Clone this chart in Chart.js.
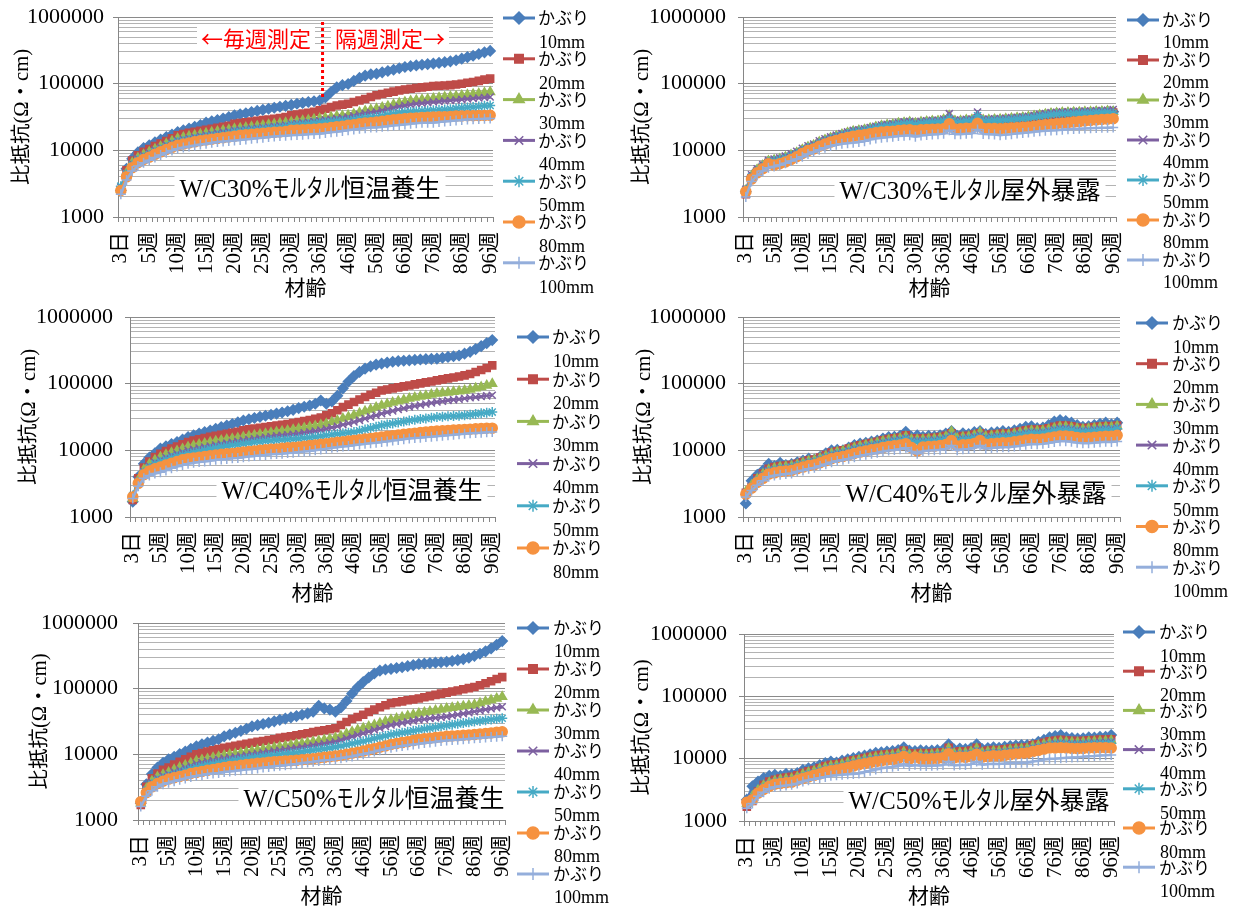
<!DOCTYPE html>
<html>
<head>
<meta charset="utf-8">
<script src="https://cdn.jsdelivr.net/npm/chart.js@4.4.1/dist/chart.umd.min.js"></script>
<style>
  body { margin: 0; background: #fff; width: 1236px; height: 908px; position: relative; overflow: hidden; }
  canvas { position: absolute; }
</style>
</head>
<body>
<canvas id="c1"></canvas>
<canvas id="c2"></canvas>
<canvas id="c3"></canvas>
<canvas id="c4"></canvas>
<canvas id="c5"></canvas>
<canvas id="c6"></canvas>
<script>
// ---- data ----
const categories = [
  '3日','1週','2週','3週','4週','5週','6週','7週','8週','9週','10週',
  '11週','12週','13週','14週','15週','16週','17週','18週','19週','20週','21週',
  '22週','23週','24週','25週','26週','27週','28週','29週','30週','32週','33週',
  '34週','35週','36週','38週','40週','42週','44週','46週','48週','50週','52週',
  '54週','56週','58週','60週','62週','64週','66週','68週','70週','72週','74週',
  '76週','78週','80週','82週','84週','86週','88週','90週','92週','94週','96週'
];
const xTickShown = ['3日','5週','10週','15週','20週','25週','30週','36週','46週','56週','66週','76週','86週','96週'];
const yDecades = [1000, 10000, 100000, 1000000];
const yTickLabels = ['1000', '10000', '100000', '1000000'];
const covers = ['10mm', '20mm', '30mm', '40mm', '50mm', '80mm', '100mm'];
const panelTitles = ['W/C30%モルタル恒温養生', 'W/C30%モルタル屋外暴露', 'W/C40%モルタル恒温養生',
                     'W/C40%モルタル屋外暴露', 'W/C50%モルタル恒温養生', 'W/C50%モルタル屋外暴露'];
const splitLabels = ['←毎週測定', '隔週測定→'];

// W/C30% 恒温養生
const wc30c_10 = [2500, 5300, 7500, 9300, 10800, 11900, 13200, 14500, 15800, 17200, 18800,
  20000, 21200, 22500, 24000, 26000, 27200, 28500, 30000, 31500, 33500, 34800,
  36000, 37500, 39000, 40500, 42000, 43500, 45000, 46500, 48000, 50000, 51500,
  53000, 54500, 56000, 62000, 75000, 88000, 95000, 99000, 110000, 122000, 132000,
  138000, 141000, 148000, 155000, 162000, 170000, 178000, 183000, 188000, 192000, 196000,
  200000, 205000, 210000, 216000, 225000, 237000, 250000, 262000, 278000, 295000, 310000];
const wc30c_20 = [2500, 5000, 7000, 8400, 9500, 10500, 11600, 12700, 13800, 15200, 16800,
  17500, 18300, 19000, 19700, 20400, 21000, 21700, 22500, 23300, 25000, 25700,
  26400, 27000, 27700, 28400, 29000, 29700, 30500, 31500, 33500, 34500, 35500,
  36500, 38000, 40000, 42000, 44500, 47000, 48500, 50000, 53000, 56000, 59000,
  63000, 67000, 70000, 73000, 76000, 79000, 82000, 84000, 86000, 88000, 90000,
  92000, 93000, 94000, 95000, 97000, 100000, 103000, 106000, 110000, 115000, 119000];
const wc30c_30 = [2600, 4600, 6500, 7700, 8600, 9400, 10400, 11400, 12500, 13700, 15000,
  15600, 16200, 16800, 17400, 18000, 18600, 19200, 19800, 20400, 21000, 21500,
  22000, 22500, 23000, 23600, 24200, 24800, 25400, 26000, 26500, 27200, 27800,
  28500, 29200, 30000, 30800, 31600, 32500, 33000, 33500, 35000, 37000, 39000,
  40500, 42000, 44000, 46000, 48500, 51000, 53000, 55000, 56500, 57500, 58500,
  60000, 61500, 63000, 64000, 65000, 66500, 68000, 69500, 71000, 73000, 75000];
const wc30c_40 = [2800, 4500, 6300, 7500, 8400, 9200, 10100, 11000, 12000, 13000, 14000,
  14600, 15200, 15800, 16400, 17000, 17600, 18200, 18800, 19400, 20000, 20400,
  20800, 21200, 21600, 22000, 22500, 23000, 23500, 24000, 25000, 25500, 26000,
  26500, 27200, 28000, 28600, 29200, 30000, 30800, 31500, 33000, 34500, 36000,
  37000, 37500, 39500, 41500, 43500, 45500, 47000, 48500, 50000, 51000, 52000,
  53000, 54000, 55000, 56000, 57000, 58000, 59000, 60000, 61000, 62000, 63000];
const wc30c_50 = [2900, 4400, 6000, 7100, 7900, 8600, 9500, 10300, 11200, 12200, 13300,
  13800, 14300, 14800, 15300, 15800, 16300, 16800, 17300, 17800, 18800, 19200,
  19600, 20000, 20400, 20800, 21200, 21600, 22000, 22500, 23700, 24000, 24400,
  24800, 25400, 26000, 26500, 27000, 27500, 27800, 28000, 29000, 30000, 30800,
  31200, 31500, 33000, 34500, 35500, 36500, 37500, 38000, 38500, 39000, 39500,
  40000, 40500, 41000, 41500, 42500, 43500, 44000, 44500, 45500, 46500, 47000];
const wc30c_80 = [2500, 4000, 5500, 6500, 7300, 7900, 8700, 9500, 10300, 11100, 11900,
  12400, 12900, 13400, 13900, 14300, 14700, 15100, 15500, 15900, 16300, 16800,
  17100, 17400, 17700, 18000, 18300, 18600, 18900, 19200, 20000, 20200, 20400,
  20600, 20800, 21000, 21500, 22000, 22500, 23000, 23700, 24300, 25000, 25600,
  26000, 26500, 27200, 28000, 28700, 29300, 29800, 30200, 30600, 31000, 31300,
  31500, 31800, 32000, 32300, 32600, 32800, 33000, 33100, 33200, 33400, 33500];
const wc30c_100 = [2200, 3600, 4900, 5800, 6500, 7100, 7800, 8500, 9200, 9900, 10600,
  11000, 11400, 11800, 12200, 12600, 13000, 13300, 13600, 13800, 14000, 14300,
  14600, 14900, 15200, 15500, 15800, 16100, 16400, 16600, 16800, 17000, 17200,
  17400, 17600, 17800, 18200, 18600, 19000, 19500, 20000, 20500, 21000, 21500,
  22000, 22000, 22500, 23000, 23500, 24000, 24500, 25000, 25500, 26000, 26000,
  26000, 26500, 27000, 27500, 28000, 28500, 29000, 29200, 29500, 29800, 30000];

// W/C30% 屋外暴露
const wc30o_10 = [2400, 4000, 5000, 5800, 6800, 7000, 7300, 7700, 8300, 9000, 10000,
  11000, 11600, 13000, 14000, 15000, 16000, 17000, 18000, 19000, 19500, 20000,
  21000, 22000, 23000, 23500, 24000, 25000, 25500, 26000, 25000, 26000, 26500,
  27000, 27000, 28000, 30000, 27000, 27000, 28000, 28000, 31000, 28000, 28000,
  28500, 28500, 29000, 29500, 30000, 30500, 31000, 32000, 33000, 34000, 35000,
  35500, 36000, 36000, 36500, 36500, 37000, 37000, 37500, 37500, 38000, 38000];
const wc30o_20 = [2200, 3800, 4800, 5600, 6500, 6800, 7100, 7500, 8000, 8700, 9500,
  10500, 11200, 12500, 13500, 14500, 15500, 16500, 17500, 18300, 18800, 19300,
  20200, 21200, 22200, 22700, 23200, 24200, 24700, 25200, 24200, 25200, 25700,
  26200, 26300, 27200, 29000, 26200, 26300, 27200, 27300, 30000, 27200, 27300,
  27700, 27800, 28300, 28700, 29200, 29700, 30200, 31200, 32200, 33200, 34200,
  34700, 35200, 35300, 35700, 35800, 36200, 36300, 36700, 36800, 37200, 37000];
const wc30o_30 = [2500, 4100, 5100, 5900, 6900, 7100, 7400, 7900, 8500, 9200, 10200,
  11200, 11900, 13300, 14300, 15300, 16300, 17300, 18300, 19300, 19800, 20400,
  21400, 22400, 23400, 24000, 24500, 25500, 26000, 26500, 25500, 26500, 27000,
  27500, 27600, 29000, 33000, 27600, 27700, 28600, 28800, 32000, 28600, 28700,
  29100, 29200, 29700, 30200, 30700, 31200, 31800, 32800, 33800, 34800, 35800,
  36300, 36800, 36900, 37300, 37400, 37800, 37900, 38300, 38400, 38800, 38000];
const wc30o_40 = [2600, 4300, 5300, 6100, 7100, 7400, 7700, 8200, 8900, 9700, 10700,
  11700, 12400, 13900, 14900, 15900, 16900, 17900, 18900, 19900, 20400, 21000,
  22000, 23000, 24000, 24600, 25100, 26100, 26700, 27200, 26200, 27200, 27700,
  28200, 28300, 29500, 35500, 28300, 28400, 29300, 29500, 37500, 29300, 29400,
  29800, 29900, 30400, 30900, 31400, 31900, 32500, 33500, 34600, 35700, 36700,
  37200, 37700, 37800, 38300, 38400, 38800, 38900, 39400, 39500, 40000, 41000];
const wc30o_50 = [2500, 4000, 4900, 5700, 6600, 6900, 7200, 7600, 8200, 8900, 9800,
  10800, 11400, 12700, 13700, 14700, 15700, 16700, 17600, 18600, 19100, 19600,
  20600, 21600, 22500, 23000, 23500, 24500, 25000, 25500, 24500, 25500, 26000,
  26400, 26500, 27500, 30000, 26500, 26600, 27500, 27600, 33000, 27500, 27600,
  28000, 28100, 28500, 29000, 29400, 29900, 30400, 31300, 32300, 33300, 34300,
  34800, 35200, 35300, 35700, 35800, 36200, 36300, 36700, 36800, 37200, 36000];
const wc30o_80 = [2400, 3700, 4600, 5300, 6300, 6000, 6300, 6700, 7300, 8000, 9000,
  9900, 10500, 11500, 12400, 13300, 14100, 14900, 15600, 16300, 16800, 17200,
  17800, 18300, 18800, 19100, 19400, 19800, 20100, 20400, 19600, 20300, 20600,
  20800, 20900, 21000, 25000, 20900, 21000, 21400, 21500, 25500, 21300, 21300,
  21200, 21000, 21300, 21600, 21900, 22100, 22300, 23000, 23600, 24200, 24600,
  25000, 25500, 26000, 26500, 27000, 27500, 28000, 28500, 29000, 29300, 29800];
const wc30o_100 = [2000, 3400, 4200, 4900, 5500, 5700, 6000, 6400, 6900, 7400, 8000,
  8800, 9400, 10200, 10900, 11600, 12100, 12500, 12800, 13000, 13300, 13700,
  14500, 15000, 15400, 15700, 16000, 16400, 16600, 16800, 16000, 16700, 17000,
  17300, 17500, 17800, 20000, 17400, 17400, 17800, 17900, 20500, 17600, 17500,
  17300, 16800, 17200, 17500, 17900, 18200, 18500, 19000, 19400, 19700, 19900,
  20000, 20400, 20700, 20900, 21100, 21300, 21500, 21700, 21800, 21900, 22000];

// W/C40% 恒温養生
const wc40c_10 = [1700, 4000, 6300, 7800, 9000, 10600, 11500, 12400, 13300, 14500, 15800,
  16800, 17800, 18800, 19800, 21000, 22300, 23500, 24800, 26300, 28000, 29300,
  30500, 31800, 33000, 34200, 35500, 37000, 38500, 40500, 43000, 45000, 47000,
  50000, 56000, 50000, 54000, 66000, 85000, 108000, 130000, 150000, 168000, 182000,
  193000, 200000, 207000, 213000, 218000, 221000, 224000, 227000, 230000, 233000, 235000,
  237000, 245000, 252000, 258000, 265000, 282000, 300000, 330000, 365000, 405000, 450000];
const wc40c_20 = [1800, 3800, 5500, 6800, 7900, 8900, 9800, 10600, 11400, 12300, 13300,
  14000, 14700, 15300, 15900, 16500, 17100, 17700, 18300, 19000, 20000, 20600,
  21200, 21800, 22400, 23000, 23600, 24200, 24800, 25600, 26600, 27500, 28500,
  29700, 31000, 33500, 36000, 40000, 44500, 48500, 53000, 58000, 63000, 68000,
  73000, 79000, 82000, 85000, 88000, 91000, 94000, 97500, 101000, 104500, 108000,
  112000, 116000, 120000, 124000, 128000, 133000, 140000, 150000, 160000, 172000, 188000];
const wc40c_30 = [1900, 3600, 5100, 6200, 7100, 7900, 8600, 9200, 9800, 10500, 11200,
  11700, 12200, 12700, 13200, 13700, 14100, 14500, 14900, 15300, 15800, 16300,
  16800, 17300, 17800, 18300, 18800, 19300, 19800, 20400, 21000, 21700, 22400,
  23100, 24000, 25000, 26500, 28000, 30000, 31500, 33500, 36000, 38500, 41000,
  44000, 47000, 49500, 52000, 54500, 57000, 60000, 62000, 64000, 66000, 68500,
  71000, 72500, 74000, 75500, 77000, 79000, 82000, 85500, 89000, 94000, 100000];
const wc40c_40 = [2000, 3500, 4800, 5800, 6600, 7200, 7800, 8400, 8900, 9400, 10000,
  10400, 10800, 11200, 11600, 12000, 12400, 12800, 13200, 13600, 14100, 14500,
  14900, 15300, 15700, 16100, 16500, 16800, 17100, 17400, 17800, 18300, 18900,
  19500, 20200, 21000, 22000, 23000, 24200, 25400, 26600, 28200, 29900, 31700,
  33500, 35500, 37200, 39000, 40900, 42800, 44700, 46300, 47900, 49500, 51200,
  53000, 54400, 55800, 57200, 58600, 60000, 61400, 62800, 64200, 65600, 67000];
const wc40c_50 = [2100, 3400, 4600, 5500, 6200, 6700, 7200, 7700, 8100, 8500, 8900,
  9300, 9700, 10100, 10500, 10900, 11300, 11600, 11900, 12200, 12600, 12900,
  13200, 13500, 13800, 14000, 14200, 14400, 14600, 14800, 15000, 15300, 15600,
  15900, 16300, 16800, 17200, 17600, 18000, 18400, 18800, 19700, 20600, 21600,
  22600, 23700, 24500, 25300, 26100, 27000, 28000, 28700, 29400, 30100, 30800,
  31600, 32000, 32400, 32800, 33100, 33500, 34300, 35100, 35900, 36700, 37500];
const wc40c_80 = [2000, 3200, 4300, 4900, 5300, 5600, 6000, 6400, 6800, 7200, 7500,
  7700, 7900, 8100, 8300, 8500, 8700, 8900, 9000, 9200, 9400, 9600,
  9800, 10000, 10200, 10400, 10500, 10700, 10900, 11000, 11200, 11500, 11800,
  12000, 12300, 12600, 12900, 13200, 13500, 13800, 14100, 14400, 14800, 15100,
  15500, 15800, 16200, 16600, 17000, 17400, 17800, 18100, 18500, 18800, 19200,
  19500, 19700, 19900, 20100, 20400, 20600, 20800, 21000, 21200, 21400, 21500];
const wc40c_100 = [1900, 2900, 3800, 4200, 4500, 4700, 5000, 5400, 5700, 6000, 6300,
  6500, 6700, 6800, 7000, 7200, 7300, 7400, 7600, 7700, 7900, 8100,
  8200, 8400, 8500, 8700, 8800, 8900, 9100, 9200, 9400, 9600, 9800,
  10000, 10300, 10600, 10900, 11100, 11400, 11600, 11900, 12200, 12500, 12800,
  13000, 13300, 13600, 14000, 14300, 14700, 15000, 15300, 15500, 15800, 16000,
  16300, 16600, 16900, 17200, 17500, 17800, 18000, 18200, 18400, 18600, 18800];

// W/C40% 屋外暴露
const wc40o_10 = [1600, 3500, 4300, 5000, 6300, 5800, 6500, 6000, 6200, 6600, 7000,
  7500, 7300, 8000, 9000, 10000, 10200, 10000, 11000, 12000, 12600, 13000,
  13500, 14000, 15000, 15800, 16000, 16500, 19000, 16000, 16800, 16000, 16500,
  16200, 16800, 17800, 19500, 16500, 18000, 17500, 18800, 19500, 17500, 18500,
  18800, 19500, 19000, 20000, 21000, 22500, 23000, 21500, 22000, 24000, 27000,
  28500, 27500, 26000, 24000, 22500, 23000, 24000, 25000, 26000, 24500, 26000];
const wc40o_20 = [2300, 2800, 3800, 4500, 5300, 5600, 5800, 5900, 6000, 6300, 6700,
  7100, 7300, 7800, 8500, 9300, 9700, 10000, 10600, 11300, 11900, 12400,
  12900, 13400, 14200, 14800, 15200, 15600, 16800, 15000, 15000, 15000, 15300,
  15400, 15800, 16500, 18000, 15600, 16400, 16500, 17300, 18000, 16600, 17200,
  17500, 17800, 17800, 18500, 19200, 20000, 20500, 20300, 20600, 21500, 22500,
  23500, 23500, 23000, 22000, 21500, 21800, 22300, 22800, 23200, 23000, 23500];
const wc40o_30 = [2400, 3000, 3700, 4400, 5100, 5400, 5600, 5700, 5800, 6100, 6500,
  6900, 7100, 7600, 8200, 9000, 9400, 9700, 10300, 10900, 11500, 12000,
  12500, 13000, 13700, 14300, 14700, 15100, 16000, 14500, 14500, 14500, 14800,
  14900, 15300, 16000, 19000, 15100, 15800, 16000, 16700, 18500, 16100, 16600,
  16900, 17200, 17200, 17800, 18400, 19200, 19700, 19500, 19800, 20600, 21500,
  22500, 22500, 22000, 21200, 20800, 21000, 21500, 22000, 22400, 22200, 23000];
const wc40o_40 = [2300, 2900, 3600, 4300, 5000, 5200, 5400, 5500, 5700, 6000, 6300,
  6700, 6900, 7400, 8000, 8700, 9100, 9400, 10000, 10600, 11100, 11600,
  12100, 12600, 13200, 13800, 14200, 14600, 15400, 14000, 14000, 14000, 14300,
  14400, 14800, 15400, 17000, 14600, 15200, 15400, 16100, 17000, 15500, 16000,
  16300, 16600, 16600, 17100, 17700, 18400, 18900, 18700, 19000, 19800, 20600,
  21500, 21500, 21000, 20300, 19900, 20100, 20600, 21000, 21400, 21200, 22000];
const wc40o_50 = [2200, 2800, 3500, 4100, 4800, 5000, 5200, 5300, 5500, 5800, 6100,
  6400, 6600, 7100, 7700, 8300, 8700, 9000, 9500, 10100, 10600, 11100,
  11500, 12000, 12600, 13100, 13500, 13900, 14700, 13300, 13300, 13300, 13600,
  13700, 14100, 14700, 16000, 13900, 14500, 14700, 15300, 16000, 14800, 15200,
  15500, 15800, 15800, 16300, 16900, 17500, 18000, 17800, 18100, 18800, 19600,
  20400, 20400, 20000, 19300, 18900, 19100, 19500, 19900, 20300, 20100, 21000];
const wc40o_80 = [2200, 2700, 3300, 3800, 4400, 4600, 4800, 4900, 5000, 5300, 5600,
  5900, 6100, 6500, 7000, 7500, 7800, 8100, 8500, 9000, 9400, 9800,
  10200, 10500, 11000, 11400, 11700, 12000, 12600, 11000, 9800, 11200, 11400,
  11500, 11800, 12200, 14000, 11600, 12100, 12200, 12700, 14000, 12300, 12600,
  12800, 13000, 13000, 13400, 13800, 14300, 14700, 14600, 14800, 15300, 15900,
  16400, 16400, 16100, 15600, 15300, 15400, 15700, 16000, 16300, 16200, 16800];
const wc40o_100 = [2000, 2500, 3000, 3500, 4000, 4200, 4300, 4400, 4500, 4800, 5000,
  5300, 5500, 5800, 6200, 6600, 6900, 7200, 7500, 7900, 8300, 8600,
  8900, 9200, 9600, 9900, 10100, 10400, 10900, 9600, 8900, 9700, 9900,
  10000, 10200, 10500, 11800, 10000, 10400, 10500, 10900, 11800, 10600, 10800,
  11000, 11100, 11100, 11400, 11700, 12100, 12400, 12300, 12500, 12900, 13300,
  13700, 13700, 13400, 13000, 12800, 12800, 13000, 13200, 13400, 13300, 13600];

// W/C50% 恒温養生
const wc50c_10 = [1800, 3500, 5000, 6300, 7400, 8400, 9200, 10100, 11000, 12100, 13300,
  14200, 15100, 16000, 17000, 18800, 20000, 21300, 22800, 24500, 26600, 27800,
  29000, 30300, 31800, 33500, 35000, 36600, 38200, 40000, 42000, 44500, 55000,
  50000, 48000, 44500, 52000, 65000, 84000, 105000, 126000, 148000, 170000, 188000,
  196000, 200000, 206000, 212000, 220000, 228000, 237000, 241000, 245000, 249000, 253000,
  257000, 264000, 272000, 282000, 296000, 316000, 340000, 370000, 410000, 465000, 530000];
const wc50c_20 = [1700, 3200, 4300, 5100, 5800, 6300, 7000, 7700, 8400, 9200, 10000,
  10500, 11000, 11500, 12000, 12600, 13000, 13500, 14000, 14500, 15000, 15500,
  16000, 16500, 17000, 17800, 18300, 18900, 19500, 20200, 21000, 21800, 22600,
  23300, 24100, 25000, 28000, 31000, 34500, 37000, 40000, 44000, 48000, 52000,
  56000, 60000, 62000, 64000, 66500, 68500, 71000, 74000, 77000, 80500, 84000,
  87000, 90500, 94000, 98000, 102000, 106000, 113000, 121000, 130000, 140000, 150000];
const wc50c_30 = [1800, 3000, 3900, 4500, 4900, 5300, 5800, 6300, 6800, 7300, 7900,
  8200, 8500, 8900, 9200, 9600, 9900, 10200, 10500, 10900, 11200, 11600,
  12000, 12300, 12700, 13000, 13400, 13800, 14200, 14600, 15000, 15500, 16000,
  16500, 17100, 17800, 19000, 20500, 22000, 23500, 25000, 26500, 28000, 29800,
  31600, 33500, 35000, 36700, 38400, 40200, 42000, 43500, 45000, 46600, 48300,
  50000, 51300, 52700, 54100, 55500, 57000, 60000, 63500, 67000, 71000, 75000];
const wc50c_40 = [1900, 2900, 3700, 4300, 4700, 5000, 5400, 5800, 6300, 6700, 7200,
  7500, 7800, 8100, 8400, 8700, 8900, 9200, 9400, 9700, 10000, 10300,
  10600, 10900, 11200, 11500, 11800, 12200, 12500, 12900, 13300, 13700, 14100,
  14500, 15000, 15500, 16500, 17600, 18700, 19800, 21000, 22300, 23600, 25000,
  26500, 28000, 29000, 30100, 31200, 32300, 33500, 34300, 35100, 35900, 36700,
  37500, 38800, 40200, 41600, 43100, 44700, 46300, 48000, 49600, 51300, 53000];
const wc50c_50 = [1900, 2800, 3500, 4000, 4300, 4600, 4900, 5200, 5600, 6000, 6300,
  6600, 6900, 7100, 7400, 7600, 7900, 8100, 8400, 8600, 8900, 9100,
  9300, 9500, 9700, 9900, 10100, 10400, 10600, 10900, 11200, 11500, 11800,
  12100, 12500, 12900, 13400, 14000, 14600, 15200, 15800, 16600, 17400, 18200,
  19100, 20000, 20700, 21400, 22100, 22900, 23700, 24400, 25100, 25900, 26700,
  27500, 28300, 29100, 29900, 30700, 31600, 32300, 33100, 33900, 34700, 35500];
const wc50c_80 = [1900, 2600, 3200, 3600, 3900, 4200, 4400, 4600, 4800, 5100, 5300,
  5500, 5700, 5900, 6100, 6300, 6500, 6600, 6800, 7000, 7100, 7300,
  7400, 7600, 7700, 7800, 7900, 8000, 8100, 8300, 8400, 8600, 8800,
  9000, 9200, 9400, 9700, 10000, 10400, 10800, 11200, 11700, 12200, 12800,
  13400, 14100, 14600, 15100, 15600, 16200, 16800, 17200, 17600, 18000, 18400,
  18800, 19000, 19200, 19500, 19700, 20000, 20400, 20800, 21200, 21600, 22000];
const wc50c_100 = [1600, 2300, 2800, 3200, 3500, 3700, 3900, 4100, 4300, 4500, 4700,
  4800, 5000, 5100, 5200, 5400, 5500, 5600, 5700, 5900, 6000, 6100,
  6300, 6400, 6600, 6700, 6800, 7000, 7100, 7300, 7500, 7700, 7900,
  8100, 8200, 8400, 8700, 9000, 9300, 9700, 10000, 10500, 11000, 11500,
  12000, 12600, 13000, 13400, 13700, 14100, 14500, 14900, 15200, 15600, 15900,
  16300, 16500, 16700, 17000, 17200, 17500, 17700, 18000, 18300, 18500, 18800];

// W/C50% 屋外暴露
const wc50o_10 = [2200, 3600, 4300, 4900, 5300, 5500, 5300, 5700, 5600, 5900, 6600,
  7000, 7300, 7900, 8500, 9000, 8700, 9300, 9800, 10200, 10700, 11200,
  11800, 12400, 12700, 13000, 13300, 13700, 15200, 13500, 13300, 13600, 13400,
  13500, 13700, 13900, 17000, 14000, 14500, 14200, 14800, 17000, 14300, 14800,
  15200, 15000, 15500, 16000, 16300, 16500, 16500, 17000, 18700, 20000, 22000,
  23000, 24000, 22000, 21500, 21000, 21300, 22000, 21800, 22500, 22500, 24000];
const wc50o_20 = [1700, 2100, 3000, 3800, 4300, 4600, 4800, 5000, 5100, 5400, 5900,
  6300, 6600, 7100, 7600, 8000, 8100, 8500, 9000, 9400, 9800, 10200,
  10700, 11200, 11500, 11800, 12000, 12400, 13500, 12200, 12000, 12300, 12200,
  12300, 12500, 12700, 15000, 12700, 13100, 13000, 13500, 15000, 13100, 13500,
  13800, 13700, 14100, 14500, 14800, 15000, 15100, 16500, 17000, 18000, 19000,
  19500, 20000, 19500, 19300, 19200, 19400, 19800, 19900, 20200, 20300, 20500];
const wc50o_30 = [1900, 2500, 3100, 3700, 4100, 4400, 4600, 4700, 4800, 5100, 5600,
  6000, 6300, 6800, 7200, 7600, 7800, 8100, 8600, 9000, 9400, 9800,
  10200, 10600, 10900, 11200, 11400, 11800, 12800, 11600, 11400, 11700, 11600,
  11700, 11900, 12100, 14500, 12100, 12500, 12400, 12900, 14500, 12500, 12900,
  13200, 13100, 13500, 13900, 14200, 14400, 14500, 15700, 16200, 17000, 18000,
  18500, 18800, 18500, 18300, 18200, 18400, 18700, 18800, 19100, 19200, 19500];
const wc50o_40 = [2000, 2400, 3000, 3500, 3900, 4200, 4400, 4500, 4600, 4900, 5300,
  5700, 6000, 6400, 6800, 7200, 7400, 7700, 8200, 8600, 9000, 9400,
  9800, 10100, 10400, 10700, 10900, 11300, 12200, 11100, 10900, 11200, 11100,
  11200, 11400, 11600, 13500, 11600, 12000, 11900, 12300, 13500, 12000, 12300,
  12600, 12500, 12900, 13300, 13600, 13800, 13900, 15000, 15500, 16300, 17200,
  17700, 18000, 17700, 17500, 17400, 17600, 17900, 18000, 18300, 18400, 18700];
const wc50o_50 = [2000, 2300, 2900, 3400, 3800, 4100, 4200, 4300, 4400, 4700, 5100,
  5500, 5700, 6100, 6500, 6900, 7100, 7400, 7800, 8200, 8600, 9000,
  9300, 9600, 9900, 10200, 10400, 10700, 11600, 10500, 10400, 10700, 10600,
  10700, 10900, 11100, 12800, 11100, 11400, 11300, 11700, 12800, 11400, 11700,
  12000, 11900, 12300, 12600, 12900, 13100, 13200, 14200, 14700, 15500, 16300,
  16800, 17100, 16800, 16600, 16500, 16700, 17000, 17100, 17300, 17400, 17700];
const wc50o_80 = [2000, 2200, 2800, 3200, 3600, 3900, 4000, 4100, 4200, 4500, 4800,
  5100, 5400, 5700, 6100, 6400, 6600, 6900, 7200, 7600, 8000, 8300,
  8600, 8900, 9200, 9500, 9700, 10000, 10800, 9800, 10600, 10000, 9900,
  10000, 10100, 10300, 12000, 10300, 10600, 10500, 10800, 11800, 10600, 10800,
  11100, 11000, 11300, 11600, 11900, 12100, 12300, 13000, 13500, 14200, 14800,
  14800, 15000, 14800, 14600, 14500, 14600, 14800, 14900, 15000, 15000, 14800];
const wc50o_100 = [1600, 1900, 2500, 2900, 3300, 3500, 3600, 3700, 3800, 4000, 4300,
  4500, 4700, 4900, 5100, 5300, 5400, 5500, 5600, 5700, 5800, 6100,
  6400, 6700, 7000, 7200, 7400, 7600, 8200, 7600, 8000, 7700, 7600,
  7700, 7800, 7900, 9000, 7800, 8000, 7900, 8100, 9000, 8000, 8200,
  8300, 8200, 8400, 8500, 8500, 8600, 8600, 9000, 9300, 9700, 10000,
  10000, 10200, 10300, 10400, 10500, 10700, 10900, 11000, 11200, 11300, 11500];

// ---- styles ----
const colors = ['#4A7EBB', '#BE4B48', '#98B954', '#7D60A0', '#46AAC5', '#F69240', '#94AEDB'];
const markers = ['rectRot', 'rect', 'triangle', 'crossRot', 'star', 'circle', 'cross'];
const SERIF = "'Liberation Serif', 'Noto Sans CJK JP', serif";
const GOTHIC = "'Noto Sans CJK JP', sans-serif";
const KANA_SCALE = 0.68;

const panels = [
  { id: 'c1', left: 0,   top: 0,   w: 620, h: 300, plot: [118, 17, 493, 217], yPad: 10, xPad: 0, tickPad: 9,
    legend: [503, 535, 538, 18, 40.8, 25, 7], box: [310, 188], split: [256, 390],
    series: [wc30c_10, wc30c_20, wc30c_30, wc30c_40, wc30c_50, wc30c_80, wc30c_100] },
  { id: 'c2', left: 620, top: 0,   w: 616, h: 300, plot: [123, 17, 496, 217], yPad: 10, xPad: 0, tickPad: 12,
    legend: [507, 539, 542, 20, 40, 23, 7], box: [350, 190],
    series: [wc30o_10, wc30o_20, wc30o_30, wc30o_40, wc30o_50, wc30o_80, wc30o_100] },
  { id: 'c3', left: 0,   top: 300, w: 620, h: 305, plot: [130, 17, 495, 217], yPad: 17, xPad: 2, tickPad: 12,
    legend: [517, 549, 552, 37, 42.2, 25, 6], box: [352, 190],
    series: [wc40c_10, wc40c_20, wc40c_30, wc40c_40, wc40c_50, wc40c_80, wc40c_100] },
  { id: 'c4', left: 620, top: 300, w: 616, h: 305, plot: [123, 17, 500, 217], yPad: 12, xPad: 4, tickPad: 12,
    legend: [516, 548, 552, 23, 40.7, 25, 7], box: [356, 193],
    series: [wc40o_10, wc40o_20, wc40o_30, wc40o_40, wc40o_50, wc40o_80, wc40o_100] },
  { id: 'c5', left: 0,   top: 605, w: 620, h: 303, plot: [138, 18, 505, 215], yPad: 28, xPad: 0, tickPad: 15,
    legend: [517, 549, 553, 23, 41, 24, 7], box: [374, 193],
    series: [wc50c_10, wc50c_20, wc50c_30, wc50c_40, wc50c_50, wc50c_80, wc50c_100] },
  { id: 'c6', left: 620, top: 605, w: 616, h: 303, plot: [124, 29, 494, 216], yPad: 10, xPad: 3, tickPad: 12,
    legend: [503, 535, 539, 27, 39.2, 25, 7], box: [359, 195],
    series: [wc50o_10, wc50o_20, wc50o_30, wc50o_40, wc50o_50, wc50o_80, wc50o_100] }
];

// mixed latin / kana / kanji text, kana drawn narrow like a proportional gothic
function runsOf(text) {
  const runs = [];
  for (const ch of text) {
    const k = /[\u30A0-\u30FF]/.test(ch) ? 'kana'
      : /[\u2190-\u21FF\u3000-\u9FFF\uFF00-\uFFEF]/.test(ch) ? 'cjk' : 'latin';
    const last = runs[runs.length - 1];
    if (last && last.k === k) last.t += ch; else runs.push({ k: k, t: ch });
  }
  return runs;
}
function runFont(k, size) {
  return k === 'latin' ? size + "px 'Liberation Serif'" : size + "px 'Noto Sans CJK JP'";
}
function mixedWidth(ctx, text, size) {
  let w = 0;
  for (const r of runsOf(text)) {
    ctx.font = runFont(r.k, size);
    w += ctx.measureText(r.t).width * (r.k === 'kana' ? KANA_SCALE : 1);
  }
  return w;
}
function drawMixed(ctx, text, cx, cy, size) {
  let x = cx - mixedWidth(ctx, text, size) / 2;
  ctx.textAlign = 'left';
  ctx.textBaseline = 'alphabetic';
  for (const r of runsOf(text)) {
    ctx.font = runFont(r.k, size);
    const s = r.k === 'kana' ? KANA_SCALE : 1;
    ctx.save();
    ctx.translate(x, cy + size * 0.36);
    ctx.scale(s, 1);
    ctx.fillText(r.t, 0, 0);
    ctx.restore();
    x += ctx.measureText(r.t).width * s;
  }
}

const deco = {
  id: 'deco',
  beforeDatasetsDraw(chart, args, o) {
    const ctx = chart.ctx;
    ctx.save();
    const w = mixedWidth(ctx, o.title, 25);
    ctx.fillStyle = '#fff';
    ctx.fillRect(o.box[0] - w / 2 - 5, o.box[1] - 13, w + 10, 27);
    ctx.fillStyle = '#000';
    drawMixed(ctx, o.title, o.box[0], o.box[1], 25);
    ctx.restore();
  },
  afterDatasetsDraw(chart, args, o) {
    if (!o.split) return;
    const ctx = chart.ctx;
    const xs = chart.scales.x;
    const i = categories.indexOf('36週');
    const lx = (xs.getPixelForValue(i) + xs.getPixelForValue(i + 1)) / 2;
    ctx.save();
    splitLabels.forEach(function (t, k) {
      const w = mixedWidth(ctx, t, 22);
      ctx.fillStyle = '#fff';
      ctx.fillRect(o.split[k] - w / 2 - 4, 27, w + 8, 24);
      ctx.fillStyle = '#FF0000';
      drawMixed(ctx, t, o.split[k], 39, 22);
    });
    ctx.strokeStyle = '#FF0000';
    ctx.lineWidth = 3;
    ctx.setLineDash([3, 3]);
    ctx.beginPath();
    ctx.moveTo(lx, 22);
    ctx.lineTo(lx, 97);
    ctx.stroke();
    ctx.restore();
  },
  afterDraw(chart, args, o) {
    const ctx = chart.ctx;
    const [x0, x1, tx, y0, dy, dmm, count] = o.legend;
    ctx.save();
    for (let i = 0; i < count; i++) {
      const ds = chart.data.datasets[i];
      const y = y0 + i * dy;
      ctx.strokeStyle = ds.borderColor;
      ctx.fillStyle = ds.borderColor;
      ctx.lineWidth = 3;
      ctx.setLineDash([]);
      ctx.beginPath();
      ctx.moveTo(x0, y);
      ctx.lineTo(x1, y);
      ctx.stroke();
      ctx.lineWidth = 1.5;
      if (Chart.helpers && Chart.helpers.drawPoint) {
        Chart.helpers.drawPoint(ctx, { pointStyle: ds.pointStyle, rotation: 0, radius: 6, borderWidth: 1.5 }, (x0 + x1) / 2, y);
      }
      ctx.fillStyle = '#000';
      ctx.textAlign = 'left';
      ctx.textBaseline = 'middle';
      ctx.font = "17px 'Noto Sans CJK JP'";
      ctx.fillText('かぶり', tx, y);
      ctx.font = "18px 'Liberation Serif'";
      ctx.fillText(covers[i], tx + 1, y + dmm);
    }
    ctx.restore();
  }
};

function makeChart(p, idx) {
  const cv = document.getElementById(p.id);
  cv.width = p.w; cv.height = p.h;
  cv.style.left = p.left + 'px'; cv.style.top = p.top + 'px';
  cv.style.width = p.w + 'px'; cv.style.height = p.h + 'px';
  const [pl, pt, pr, pb] = p.plot;
  return new Chart(cv, {
    type: 'line',
    data: {
      labels: categories,
      datasets: p.series.map(function (vals, i) {
        return {
          label: 'かぶり' + covers[i], data: vals,
          borderColor: colors[i], backgroundColor: colors[i],
          pointStyle: markers[i], pointRadius: 5, pointHoverRadius: 5, pointBorderWidth: 1.5,
          borderWidth: 2.5, tension: 0, clip: false, order: -i
        };
      })
    },
    options: {
      responsive: false, animation: false, devicePixelRatio: 1,
      events: [],
      layout: { padding: { left: 0, top: pt, right: p.w - pr, bottom: 0 } },
      plugins: {
        legend: { display: false },
        tooltip: { enabled: false },
        deco: { title: panelTitles[idx], box: p.box, legend: p.legend, split: p.split || false }
      },
      scales: {
        x: {
          offset: true,
          grid: { offset: true, drawOnChartArea: false, drawTicks: true, tickLength: 5, color: '#868686' },
          border: { color: '#868686', width: 1 },
          ticks: {
            autoSkip: false, minRotation: 90, maxRotation: 90, padding: 10, color: '#000',
            font: { family: SERIF, size: 21 },
            callback: function (v, i) { return xTickShown.includes(categories[i]) ? categories[i] : ''; }
          },
          title: { display: true, text: '材齢', color: '#000', font: { family: GOTHIC, size: 21 }, padding: { top: p.xPad, bottom: 0 } },
          afterFit: function (s) {
            s.height = p.h - pb;
            s.paddingLeft = 0; s.paddingRight = 0; s.paddingTop = 0; s.paddingBottom = 0;
          }
        },
        y: {
          type: 'logarithmic', min: yDecades[0], max: yDecades[yDecades.length - 1],
          afterBuildTicks: function (s) {
            const t = [];
            yDecades.forEach(function (d) {
              for (let m = 1; m <= 9; m++) { if (d * m <= s.max) t.push({ value: d * m }); }
            });
            s.ticks = t;
          },
          grid: {
            drawTicks: true, tickLength: 5, lineWidth: 1,
            color: function (c) { return c.tick && yDecades.includes(c.tick.value) ? '#8a8a8a' : '#b3b3b3'; },
            tickColor: function (c) { return c.tick && yDecades.includes(c.tick.value) ? '#868686' : 'rgba(0,0,0,0)'; }
          },
          border: { color: '#868686', width: 1 },
          ticks: {
            autoSkip: false, padding: p.tickPad, color: '#000', font: { family: SERIF, size: 22 },
            callback: function (v) { const k = yDecades.indexOf(v); return k >= 0 ? yTickLabels[k] : ''; }
          },
          title: { display: true, text: '比抵抗(Ω・cm)', color: '#000', font: { family: SERIF, size: 20.5 }, padding: { top: p.yPad, bottom: 0 } },
          afterFit: function (s) {
            s.width = pl;
            s.paddingLeft = 0; s.paddingRight = 0; s.paddingTop = 0; s.paddingBottom = 0;
          }
        }
      }
    },
    plugins: [deco]
  });
}

panels.forEach(makeChart);
</script>
</body>
</html>
